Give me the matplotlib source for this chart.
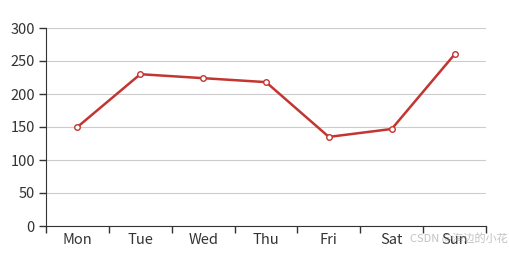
import matplotlib
matplotlib.use("Agg")
import matplotlib.pyplot as plt
import numpy as np

plt.rcParams['font.family'] = ['Noto Sans CJK SC', 'DejaVu Sans']

days = ['Mon', 'Tue', 'Wed', 'Thu', 'Fri', 'Sat', 'Sun']
values = [150, 230, 224, 218, 135, 147, 260]
yticks = [0, 50, 100, 150, 200, 250, 300]

fig = plt.figure(figsize=(5.09, 2.54), dpi=100)
ax = fig.add_axes([46/509, 28/254, 440/509, 198/254])

x = np.arange(len(days))
ax.plot(x, values, color='#c23531', lw=1.8, marker='o', ms=4,
        mfc='white', mec='#c23531', mew=1, zorder=3)

ax.set_xlim(-0.5, len(days) - 0.5)
ax.set_ylim(0, 300)
ax.set_yticks(yticks)
ax.yaxis.grid(True, color='#cccccc', lw=0.8)
ax.set_axisbelow(True)

# category boundaries as major ticks, labels centered
ax.set_xticks(np.arange(-0.5, len(days), 1.0))
ax.set_xticklabels([])
ax.set_xticks(x, minor=True)
ax.set_xticklabels(days, minor=True)
ax.tick_params(axis='x', which='major', length=5, color='#333333', width=1)
ax.tick_params(axis='x', which='minor', length=0, pad=5, labelsize=10.5, labelcolor='#333333')
ax.tick_params(axis='y', length=5, color='#333333', width=1, pad=3, labelsize=10.5, labelcolor='#333333')

for s in ['top', 'right']:
    ax.spines[s].set_visible(False)
ax.spines['left'].set_color('#333333')
ax.spines['bottom'].set_color('#333333')

fig.text(0.805, 0.045, 'CSDN @海边的小花', fontsize=8, color='#999999', alpha=0.6)

fig.savefig('out.png', dpi=100)
